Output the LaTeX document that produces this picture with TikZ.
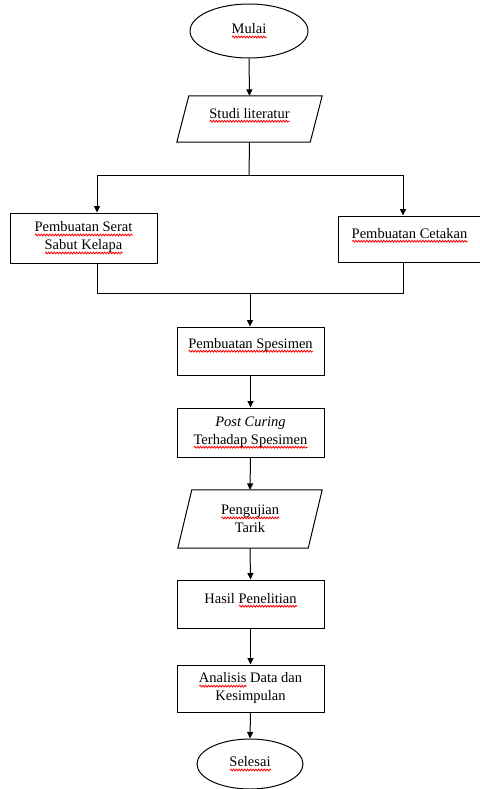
\documentclass[tikz,border=0pt]{standalone}
\usepackage{fontspec}
\setmainfont{Liberation Serif}
\usetikzlibrary{shapes.geometric,arrows.meta,decorations.pathmorphing}
\newdimen\wvw
\newcommand\wv[1]{\setbox0\hbox{#1}\wvw=\wd0\relax\rlap{\tikz[baseline=0pt,x=1pt,y=1pt]\draw[red,line width=0.8pt,decorate,decoration={snake,amplitude=0.9pt,segment length=2.8pt}] (0,-3.2) -- (\wvw,-3.2);}\box0\relax}
\begin{document}
\begin{tikzpicture}[x=1pt,y=-1pt,
  every node/.style={font=\fontsize{14.5}{18}\selectfont, inner sep=0pt},
  lw/.style={line width=1pt},
  box/.style={draw, lw, rectangle, align=center},
  term/.style={draw, lw, ellipse, align=center},
  para/.style={align=center},
  arr/.style={lw, -{Triangle[length=6.5pt,width=6pt]}},
  ln/.style={lw}]
\useasboundingbox (0,0) rectangle (479,789);

\node[term, minimum width=118pt, minimum height=54pt] (mulai) at (249,31) {\wv{Mulai}};
\node[para, minimum width=145pt, minimum height=46pt] (studi) at (249.5,119) {\wv{Studi literatur}\\[-6pt]\mbox{}};
\draw[ln] ([xshift=12pt]studi.north west) -- (studi.north east) -- ([xshift=-12pt]studi.south east) -- (studi.south west) -- cycle;

\node[box, minimum width=147pt, minimum height=50pt] (serat) at (83.5,238) {\wv{Pembuatan Serat}\\\wv{Sabut Kelapa}};
\node[box, minimum width=143pt, minimum height=46pt] (cetak) at (409.5,239) {\wv{Pembuatan Cetakan}\\[-6pt]\mbox{}};

\node[box, minimum width=147pt, minimum height=48pt] (spes) at (250.5,351) {\wv{Pembuatan Spesimen}\\[-2pt]\mbox{}};
\node[box, minimum width=147pt, minimum height=49pt] (post) at (250.5,432.5) {\textit{Post Curing}\\\wv{Terhadap Spesimen}};
\node[para, minimum width=144pt, minimum height=58pt] (peng) at (250,519) {\wv{Pengujian}\\Tarik};
\draw[ln] ([xshift=14pt]peng.north west) -- (peng.north east) -- ([xshift=-14pt]peng.south east) -- (peng.south west) -- cycle;
\node[box, minimum width=147pt, minimum height=48pt] (hasil) at (250.5,604) {Hasil \wv{Penelitian}\\[-6pt]\mbox{}};
\node[box, minimum width=147pt, minimum height=47pt] (anal) at (250.5,688.5) {\wv{Analisis} Data dan\\Kesimpulan};
\node[term, minimum width=106pt, minimum height=50pt] (selesai) at (250,764) {\wv{Selesai}};

\coordinate (split) at (249,175);
\coordinate (jl) at (97,175);
\coordinate (jr) at (403,175);
\coordinate (ml) at (97,293);
\coordinate (mr) at (403,293);
\coordinate (merge) at (250,293);

\draw[arr] (mulai.south) -- (studi.north);
\draw[ln] (studi.south) -- (split);
\draw[ln] (jl) -- (jr);
\draw[arr] (jl) -- (jl |- serat.north);
\draw[arr] (jr) -- (jr |- cetak.north);
\draw[ln] (ml |- serat.south) -- (ml) -- (mr) -- (mr |- cetak.south);
\draw[arr] (merge) -- (merge |- spes.north);
\draw[arr] (spes.south) -- (post.north);
\draw[arr] (post.south) -- (peng.north);
\draw[arr] (peng.south) -- (hasil.north);
\draw[arr] (hasil.south) -- (anal.north);
\draw[arr] (anal.south) -- (selesai.north);
\end{tikzpicture}
\end{document}
